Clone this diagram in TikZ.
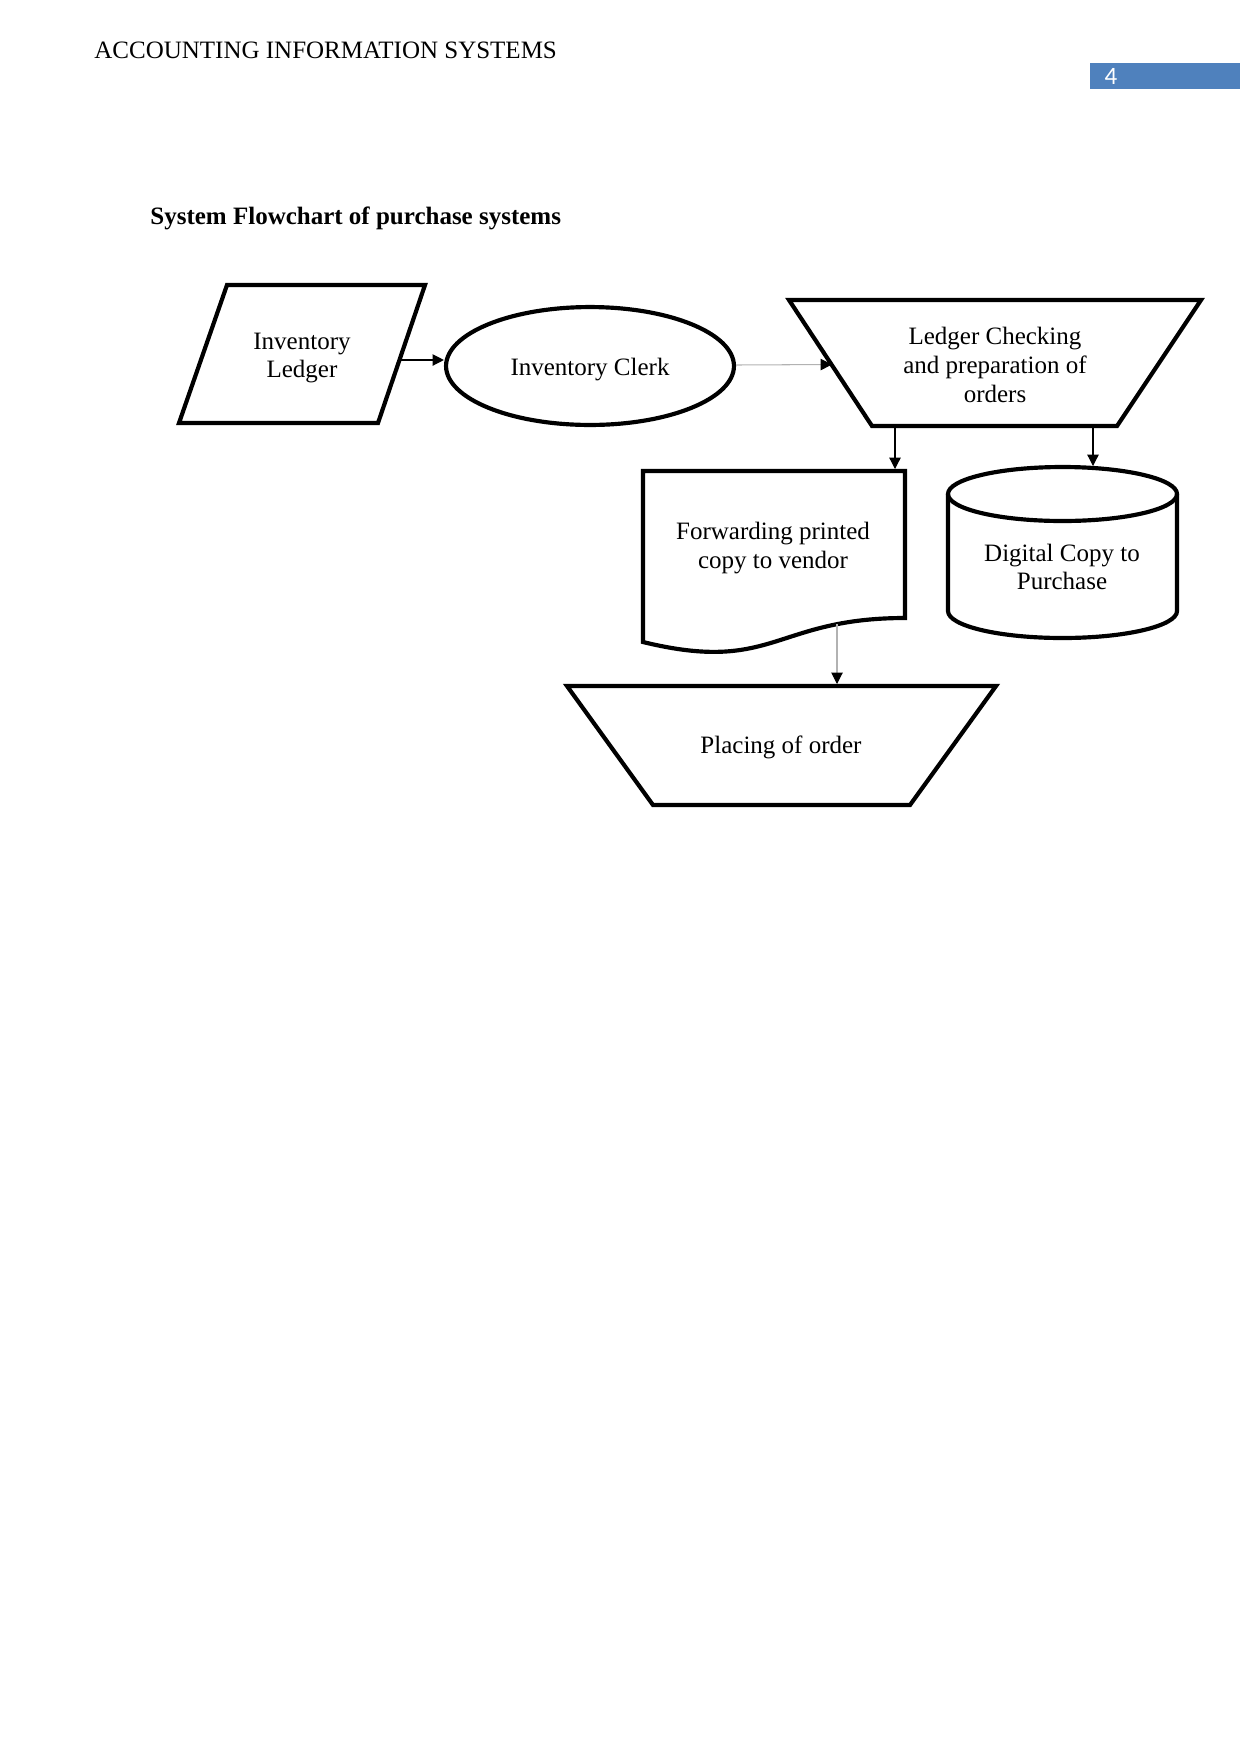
\documentclass[tikz,border=0pt]{standalone}
\usepackage{fontspec}
\setmainfont{Liberation Serif}
\newfontfamily\pagenumfont{Carlito}
\usetikzlibrary{arrows.meta,shapes.geometric}
\definecolor{pagefill}{RGB}{79,129,189}
\begin{document}
\begin{tikzpicture}[x=0.48pt,y=-0.48pt,
  outline/.style={line width=2pt, line join=miter},
  lbl/.style={font=\fontsize{12}{13.8}\selectfont, align=center, inner sep=0pt},
  conn/.style={line width=0.6pt, -{Triangle[length=5.5pt,width=5.5pt]}},
  faint/.style={draw=black!30, line width=0.5pt, -{Triangle[length=5.5pt,width=5.5pt,color=black]}}]
\useasboundingbox (0,0) rectangle (1241,1754);

% header
\node[lbl, anchor=base west] (hdr) at (94,58) {ACCOUNTING INFORMATION SYSTEMS};
\fill[pagefill] (1090,63) rectangle (1240,89);
\node[lbl, text=white, font=\pagenumfont\fontsize{12}{14}\selectfont] (pg) at (1111,76) {4};

% title
\node[lbl, anchor=base west, font=\fontsize{12}{14}\selectfont\bfseries] (title) at (150,224) {System Flowchart of purchase systems};

% shapes
\draw[outline] (227,285) -- (425,285) -- (378,423) -- (179,423) -- cycle;
\node[lbl] (ledger) at (302,358) {Inventory\\Ledger};

\node[outline, draw, ellipse, minimum width=138.2pt, minimum height=56.6pt, inner sep=0pt] (clerk) at (590,366) {};
\node[lbl] (clerkText) at (590,369.5) {Inventory Clerk};

\draw[outline] (789,300) -- (1201,300) -- (1117,426) -- (872,426) -- cycle;
\node[lbl] (check) at (995,365) {Ledger Checking\\and preparation of\\orders};

\draw[outline] (643,471) -- (905,471) -- (905,618) .. controls (774,618) and (774,674) .. (643,642) -- cycle;
\node[lbl] (fwd) at (773,548) {Forwarding printed\\copy to vendor};

\draw[outline] (948,494) -- (948,611) .. controls (948,625.9) and (999.3,638) .. (1062.5,638)
  .. controls (1125.7,638) and (1177,625.9) .. (1177,611) -- (1177,494);
\draw[outline] (1062.5,494) ellipse [x radius=114.5, y radius=27];
\node[lbl] (digital) at (1062,567) {Digital Copy to\\Purchase};

\draw[outline] (567,686) -- (996,686) -- (910,805) -- (653,805) -- cycle;
\node[lbl] (placing) at (781,747.5) {Placing of order};

% connector end points
\coordinate (ledgerOut) at (401,360);
\coordinate (clerkOut) at (736,365);
\coordinate (checkIn) at (832,364.5);
\coordinate (checkOutA) at (895,428);
\coordinate (fwdIn) at (895,469);
\coordinate (checkOutB) at (1093,428);
\coordinate (digitalIn) at (1093,466);
\coordinate (fwdOut) at (837,624);
\coordinate (placingIn) at (837,684);

% connectors
\draw[conn] (ledgerOut) -- (clerk.west |- ledgerOut);
\draw[faint] (clerkOut) -- (checkIn);
\draw[conn] (checkOutA) -- (fwdIn);
\draw[conn] (checkOutB) -- (digitalIn);
\draw[faint] (fwdOut) -- (placingIn);
\end{tikzpicture}
\end{document}
